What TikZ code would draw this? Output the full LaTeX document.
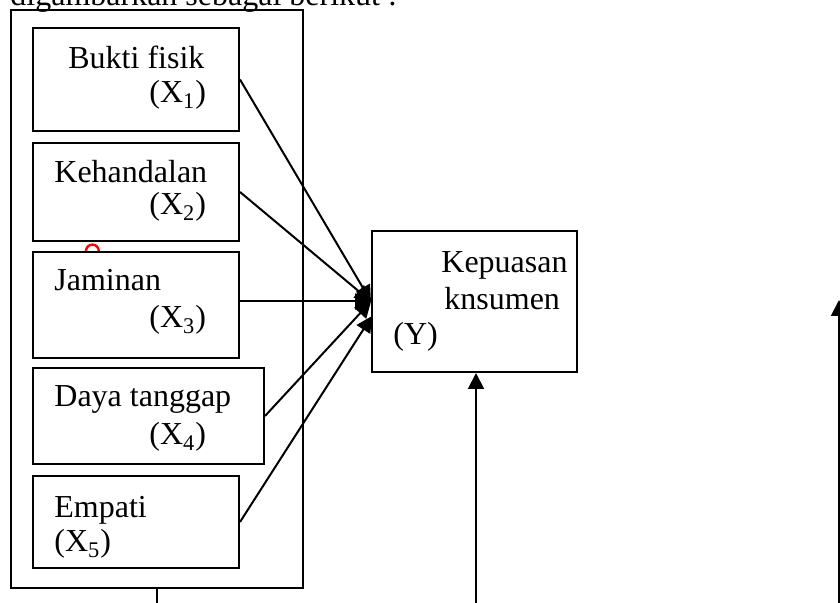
\documentclass[tikz,border=0pt]{standalone}
\usepackage{fontspec}
\setmainfont{Liberation Serif}
\usetikzlibrary{arrows.meta, positioning}

\tikzset{
  >={Triangle[length=8pt,width=8pt]},
  box/.style={draw, line width=1pt, inner sep=0pt},
  link/.style={line width=1pt},
  lbl/.style={anchor=base west, inner sep=0pt, font=\fontsize{16}{19}\selectfont},
}

\begin{document}
\begin{tikzpicture}[x=0.5pt, y=-0.5pt]
    \useasboundingbox (0,0) rectangle (840,603);
    \clip (0,0) rectangle (840,603);

    \node[lbl] (intro) at (10,6) {digambarkan sebagai berikut :};

    \node[box, minimum width=146pt, minimum height=289pt] (outer) at (157,299) {};
    \node[box, minimum width=103pt, minimum height=51.5pt] (b1) at (136,79.5) {};
    \node[box, minimum width=103pt, minimum height=49pt] (b2) at (136,192) {};
    \draw[red, line width=1.2pt] (86,251) arc[start angle=180, end angle=0, radius=3.2pt];
    \node[box, minimum width=103pt, minimum height=53pt] (b3) at (136,305) {};
    \node[box, minimum width=115.5pt, minimum height=48pt] (b4) at (148.5,416) {};
    \node[box, minimum width=103pt, minimum height=46pt] (b5) at (136,522) {};
    \node[box, minimum width=102.5pt, minimum height=70.5pt] (y) at (474.5,301.5) {};

    \node[lbl] (t1) at (68,69) {Bukti fisik};
    \node[lbl] (x1) at (149,103) {(X\textsubscript{1})};
    \node[lbl] (t2) at (54,183) {Kehandalan};
    \node[lbl] (x2) at (149,215) {(X\textsubscript{2})};
    \node[lbl] (t3) at (54,291) {Jaminan};
    \node[lbl] (x3) at (149,328) {(X\textsubscript{3})};
    \node[lbl] (t4) at (54,407) {Daya tanggap};
    \node[lbl] (x4) at (149,445) {(X\textsubscript{4})};
    \node[lbl] (t5) at (54,517) {Empati};
    \node[lbl] (x5) at (54,552) {(X\textsubscript{5})};
    \node[lbl] (ty1) at (441,273) {Kepuasan};
    \node[lbl] (ty2) at (444,310) {knsumen};
    \node[lbl] (ty3) at (393,345) {(Y)};

    \coordinate (ylow) at (372,316);
    \coordinate (stub) at (157,603);
    \coordinate (ybot) at (476,603);
    \coordinate (rbot) at (839,603);
    \coordinate (rtop) at (839,300);

    \draw[->, link] (b1.east) -- (y.west);
    \draw[->, link] (b2.east) -- (y.west);
    \draw[->, link] (b3.east |- y.west) -- (y.west);
    \draw[->, link] (b4.east) -- (y.west);
    \draw[->, link] (b5.east) -- (ylow);
    \draw[link] (outer.south) -- (stub);
    \draw[->, link] (ybot) -- (ybot |- y.south);
    \draw[->, link] (rbot) -- (rtop);
\end{tikzpicture}
\end{document}
